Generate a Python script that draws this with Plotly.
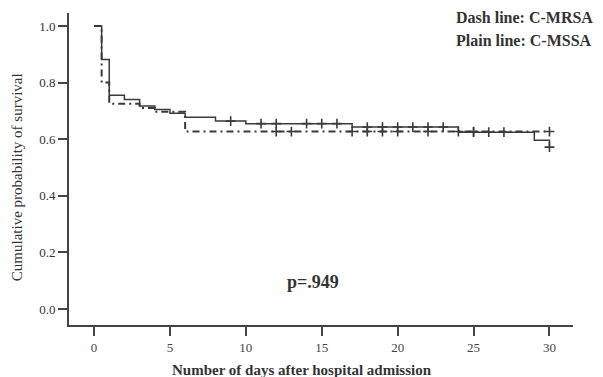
import plotly.graph_objects as go
import numpy as np

# Kaplan-Meier steps (days, survival)
mssa_t = [0, 0.5, 1, 2, 3, 4, 5, 6, 8, 10, 17, 24, 29, 30]
mssa_s = [1.0, 0.882, 0.755, 0.740, 0.717, 0.705, 0.692, 0.678, 0.664, 0.655, 0.643, 0.625, 0.596, 0.572]
mrsa_t = [0, 0.5, 1, 3, 4, 6, 30]
mrsa_s = [1.0, 0.80, 0.725, 0.71, 0.697, 0.627, 0.627]

# censored observations (days)
mssa_cens = [9, 11, 12, 14, 15, 16, 18, 19, 20, 21, 22, 23, 25, 26, 27, 30]
mrsa_cens = [12, 13, 17, 18, 19, 20, 22, 24, 25, 30]

x_ticks = [0, 5, 10, 15, 20, 25, 30]
y_ticks = [0.0, 0.2, 0.4, 0.6, 0.8, 1.0]


def step_at(ts, ss, t):
    idx = np.searchsorted(ts, t, side="right") - 1
    return ss[idx]

serif = "Liberation Serif, Times New Roman, serif"
line_col = "#3a3a3a"

fig = go.Figure()
fig.add_trace(go.Scatter(x=mrsa_t, y=mrsa_s, mode="lines", line_shape="hv",
                         line=dict(color=line_col, width=2, dash="7px,4px,2px,4px"),
                         showlegend=False, hoverinfo="skip"))
fig.add_trace(go.Scatter(x=mssa_t, y=mssa_s, mode="lines", line_shape="hv",
                         line=dict(color=line_col, width=1.5),
                         showlegend=False, hoverinfo="skip"))
fig.add_trace(go.Scatter(x=mrsa_cens, y=[step_at(mrsa_t, mrsa_s, t) for t in mrsa_cens],
                         mode="markers",
                         marker=dict(symbol="cross-thin", size=7, line=dict(color=line_col, width=1.6)),
                         showlegend=False))
fig.add_trace(go.Scatter(x=mssa_cens, y=[step_at(mssa_t, mssa_s, t) for t in mssa_cens],
                         mode="markers",
                         marker=dict(symbol="cross-thin", size=7, line=dict(color=line_col, width=1.6)),
                         showlegend=False))

fig.update_layout(
    width=603, height=377,
    margin=dict(l=69, r=30, t=13, b=52),
    plot_bgcolor="white", paper_bgcolor="white",
    font=dict(family=serif, color="#333333", size=13),
    xaxis=dict(range=[-1.65, 31.55], tickvals=x_ticks, ticktext=[str(v) for v in x_ticks],
               showgrid=False, zeroline=False, showline=True, linecolor="#444444", linewidth=2,
               ticks="outside", ticklen=9, tickwidth=2, tickcolor="#444444",
               tickfont=dict(family=serif, size=13, color="#444444")),
    yaxis=dict(range=[-0.0565, 1.046], tickvals=y_ticks, ticktext=["%.1f" % v for v in y_ticks],
               showgrid=False, zeroline=False, showline=True, linecolor="#444444", linewidth=2,
               ticks="outside", ticklen=9, tickwidth=2, tickcolor="#444444",
               tickfont=dict(family=serif, size=13, color="#333333")),
    annotations=[
        dict(text="<b>Dash line: C-MRSA</b>", xref="paper", yref="paper", x=0.764, y=0.987,
             xanchor="left", yanchor="middle", showarrow=False,
             font=dict(family=serif, size=16, color="#333333")),
        dict(text="<b>Plain line: C-MSSA</b>", xref="paper", yref="paper", x=0.764, y=0.913,
             xanchor="left", yanchor="middle", showarrow=False,
             font=dict(family=serif, size=16, color="#333333")),
        dict(text="<b>p=.949</b>", xref="paper", yref="paper", x=0.484, y=0.138,
             xanchor="center", yanchor="middle", showarrow=False,
             font=dict(family=serif, size=18, color="#333333")),
        dict(text="<b>Number of days after hospital admission</b>", xref="paper", yref="paper",
             x=0.462, y=-0.144, xanchor="center", yanchor="middle", showarrow=False,
             font=dict(family=serif, size=15, color="#333333")),
        dict(text="Cumulative probability of survival", xref="paper", yref="paper",
             x=-0.103, y=0.474, xanchor="center", yanchor="middle", showarrow=False,
             textangle=-90, font=dict(family=serif, size=15, color="#333333")),
    ],
)

fig.write_html("out.html",
               config={"displayModeBar": False, "staticPlot": True},
               post_script="document.body.style.margin='0';document.body.style.padding='0';document.documentElement.style.overflow='hidden';")
